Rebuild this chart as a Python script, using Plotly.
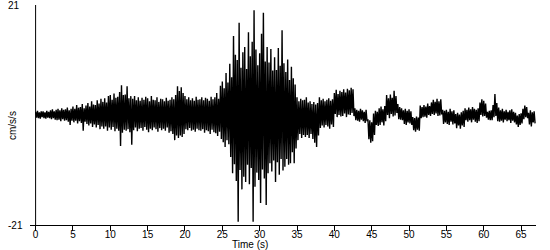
import numpy as np
import plotly.graph_objects as go

# Acceleration trace: for each 0.25 s window, the
# upper (peak) and lower (trough) excursion in cm/s/s.
step = 0.25
peaks = [
    0.6,0.8,0.5,0.7, 0.7,0.5,0.8,0.6, 0.9,1.1,0.7,1.0, 1.2,0.9,1.3,1.0,
    1.1,1.4,0.9,1.2, 1.6,1.2,1.9,1.4, 1.5,2.1,1.3,1.8, 2.3,1.6,2.6,2.0,
    1.9,2.8,2.2,3.1, 2.5,3.2,2.4,3.6, 3.8,2.9,4.1,3.3, 3.5,4.4,5.7,3.8,
    3.9,5.5,3.2,3.6, 3.1,3.6,2.8,3.4, 2.7,3.3,2.9,3.5, 3.2,2.6,3.6,2.9,
    2.8,3.4,2.5,3.1, 3.0,2.6,3.3,2.7, 2.9,3.4,3.0,3.8, 5.5,4.6,5.3,4.2,
    3.6,3.0,3.4,2.8, 3.2,2.7,3.5,2.9, 3.0,3.4,2.8,3.3, 3.1,2.7,3.5,3.0,
    3.4,4.2,3.1,5.6, 6.4,5.1,8.0,6.2, 9.8,7.2,15.1,11.5, 10.5,17.6,9.0,12.0,
    13.0,8.8,15.8,11.2, 14.0,20.0,12.5,9.5, 11.8,15.5,19.5,10.2, 13.0,10.0,12.6,8.5,
    11.0,8.6,12.8,9.4, 16.2,9.9,8.2,10.6, 6.7,9.2,7.0,5.8, 3.4,2.6,3.1,2.8,
    2.9,3.4,2.4,2.6, 2.1,2.5,2.0,2.3, 3.4,2.8,3.1,2.6, 2.9,3.2,2.7,3.0,
    4.2,4.8,4.0,4.6, 4.4,4.9,4.3,5.0, 4.7,5.2,4.9,1.3, 1.0,0.8,1.2,0.9,
    0.6,1.0,-0.8,-1.0, -1.4,0.3,0.8,0.6, 1.3,1.6,1.1,1.7, 3.8,3.2,3.9,3.3,
    4.6,3.6,2.1,1.5, 1.3,0.9,1.2,0.8, 1.1,0.7,-0.4,-0.6, -0.3,-0.5,1.8,1.5,
    1.9,1.6,2.2,1.7, 2.4,2.9,2.5,3.1, 2.6,3.0,1.0,0.8, 1.0,0.6,1.2,0.7,
    0.9,0.2,0.4,0.1, 0.5,0.8,1.3,1.0, 1.4,1.1,1.5,1.2, 1.0,1.3,2.4,3.0,
    2.7,2.2,0.6,0.8, 0.9,1.9,4.0,2.3, 1.4,0.9,1.2,0.7, 1.0,0.6,0.9,1.1,
    0.6,0.4,-0.1,0.2, 0.3,1.2,1.8,1.5, 0.4,0.9,0.5,0.7,
]
troughs = [
    -0.5,-0.6,-0.7,-0.4, -0.6,-0.7,-0.5,-0.6, -0.8,-0.6,-0.9,-1.0, -0.9,-1.2,-0.8,-1.1,
    -1.0,-1.3,-1.9,-1.1, -1.4,-1.1,-1.6,-1.2, -1.5,-3.0,-1.3,-1.7, -2.0,-1.6,-2.3,-1.8,
    -2.4,-1.9,-2.7,-2.2, -2.6,-2.2,-3.0,-2.4, -2.8,-2.3,-3.1,-2.6, -3.0,-5.9,-3.4,-2.8,
    -3.0,-2.7,-3.3,-5.7, -2.9,-2.4,-3.1,-2.6, -2.5,-3.0,-2.3,-2.8, -3.3,-2.6,-2.9,-2.4,
    -2.7,-3.2,-2.5,-2.9, -2.6,-3.0,-2.4,-3.4, -3.1,-3.6,-4.8,-3.9, -4.4,-3.9,-4.2,-3.6,
    -2.7,-2.9,-2.5,-3.0, -2.8,-3.2,-2.6,-2.9, -3.0,-2.7,-3.4,-2.9, -3.1,-3.6,-2.8,-3.3,
    -3.5,-4.0,-3.2,-4.6, -5.2,-6.1,-4.8,-5.6, -8.0,-11.1,-9.4,-12.6, -20.4,-10.5,-14.2,-11.8,
    -12.8,-9.5,-13.2,-10.1, -20.4,-13.7,-11.0,-12.4, -16.8,-10.4,-12.1,-17.2, -11.1,-9.2,-10.8,-8.7,
    -12.8,-9.0,-11.4,-8.4, -10.6,-9.9,-8.4,-9.5, -9.2,-7.1,-9.2,-6.4, -4.8,-3.6,-4.4,-3.8,
    -4.2,-3.8,-4.4,-3.6, -4.6,-5.3,-6.1,-3.9, -2.5,-2.0,-2.4,-1.9, -2.2,-2.6,-1.8,-2.3,
    0.2,-0.4,0.0,-0.3, -0.2,0.3,-0.4,0.1, 0.0,0.4,-0.2,-1.0, -1.1,-1.3,-0.9,-1.2,
    -1.5,-1.2,-4.6,-5.3, -5.0,-3.8,-1.9,-2.1, -1.9,-1.4,-2.0,-1.2, 0.0,-0.6,0.2,-0.3,
    -0.1,0.4,-0.8,-0.9, -1.0,-1.7,-1.9,-1.4, -1.6,-1.9,-2.9,-3.2, -2.8,-3.0,-0.6,-0.4,
    -0.3,-0.5,0.0,-0.2, 0.2,0.0,0.3,-0.2, -0.1,0.1,-1.7,-1.4, -1.7,-1.9,-1.3,-1.8,
    -1.6,-2.5,-2.0,-2.6, -2.0,-2.3,-1.0,-1.3, -1.0,-1.4,-0.9,-1.3, -1.5,-1.2,0.0,-0.3,
    -0.2,-0.5,-0.9,-1.0, -1.0,-0.4,-0.2,-1.2, -1.3,-1.1,-1.4,-0.9, -1.2,-1.0,-1.5,-1.1,
    -1.4,-1.8,-2.3,-1.9, -1.6,-0.8,-0.4,-0.6, -1.8,-2.2,-1.4,-1.6,
]
x_ticks = [0, 5, 10, 15, 20, 25, 30, 35, 40, 45, 50, 55, 60, 65]
y_limits = [-21, 21]
x_title = "Time (s)"
y_title = "cm/s/s"

n = min(len(peaks), len(troughs))
t = np.empty(2 * n)
a = np.empty(2 * n)
t[0::2] = np.arange(n) * step
t[1::2] = np.arange(n) * step + step / 2
a[0::2] = peaks[:n]
a[1::2] = troughs[:n]

font = dict(family="Liberation Sans, Arial, sans-serif", size=10, color="black")

fig = go.Figure()
fig.add_trace(go.Scatter(x=t, y=a, mode="lines",
                         line=dict(color="black", width=1.4), hoverinfo="skip"))

fig.update_layout(
    width=550, height=250,
    margin=dict(l=30, r=14, t=5, b=25),
    paper_bgcolor="white", plot_bgcolor="white",
    showlegend=False, font=font,
    xaxis=dict(range=[-0.75, 67], tickvals=x_ticks, ticks="outside", ticklen=5,
               tickcolor="black", showline=True, linecolor="black", linewidth=1,
               showgrid=False, zeroline=False, tickfont=font, ticklabelstandoff=-5),
    yaxis=dict(range=y_limits, showticklabels=False, ticks="", showline=False,
               showgrid=False, zeroline=False),
)
# vertical axis line at t = 0
fig.add_shape(type="line", xref="x", yref="y", x0=0, x1=0,
              y0=y_limits[0], y1=y_limits[1], line=dict(color="black", width=1))
for v in y_limits:
    fig.add_annotation(xref="paper", yref="y", x=0, y=v, xshift=-24,
                       xanchor="left", yanchor="middle", text=str(v),
                       showarrow=False, font=font)
fig.add_annotation(xref="paper", yref="paper", x=0, y=0.45, xshift=-18,
                   xanchor="center", yanchor="middle", text=y_title,
                   textangle=-90, showarrow=False, font=font)
fig.add_annotation(xref="x", yref="paper", x=28.7, y=0, yshift=-19,
                   xanchor="center", yanchor="middle", text=x_title,
                   showarrow=False, font=font)

fig.write_html("out.html")
